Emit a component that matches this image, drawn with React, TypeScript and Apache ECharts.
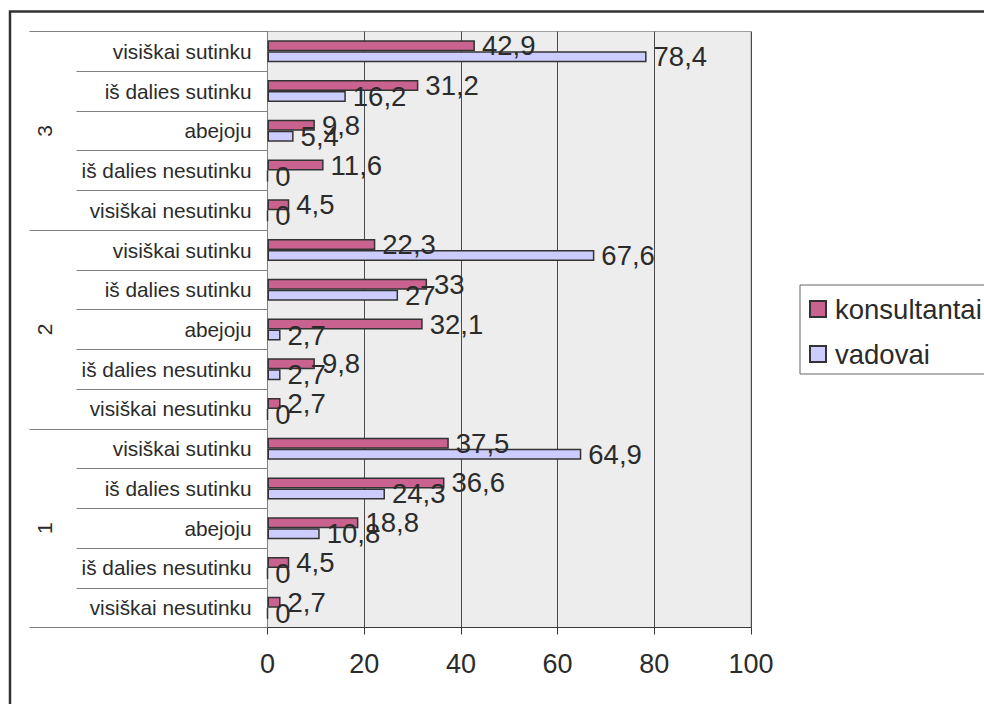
import React, { useEffect, useRef } from "react";
import * as echarts from "echarts";

// Outer grouping (statement number) and the answer scale inside each group,
// listed from the bottom of the chart upwards.
const groups = ["1", "2", "3"];
const answers = [
  "visiškai nesutinku",
  "iš dalies nesutinku",
  "abejoju",
  "iš dalies sutinku",
  "visiškai sutinku",
];

// Percentages per group, in the same order as `answers`.
const konsultantai1 = [2.7, 4.5, 18.8, 36.6, 37.5];
const konsultantai2 = [2.7, 9.8, 32.1, 33, 22.3];
const konsultantai3 = [4.5, 11.6, 9.8, 31.2, 42.9];

const vadovai1 = [0, 0, 10.8, 24.3, 64.9];
const vadovai2 = [0, 2.7, 2.7, 27, 67.6];
const vadovai3 = [0, 0, 5.4, 16.2, 78.4];

const seriesNames = ["konsultantai", "vadovai"];
const xMin = 0;
const xMax = 100;
const xStep = 20;

const FONT = "'Liberation Sans', Arial, sans-serif";
const TEXT = "#2b2b2b";
const SEP = "#808080";

export default function App() {
  const ref = useRef<HTMLDivElement>(null);

  useEffect(() => {
    if (!ref.current) return;
    const chart = echarts.init(ref.current, null, { renderer: "svg" });

    // unique keys "group|answer" so repeated answer names stay distinct
    const categories = groups.flatMap((g) => answers.map((a) => `${g}|${a}`));
    const konsultantai = [...konsultantai1, ...konsultantai2, ...konsultantai3];
    const vadovai = [...vadovai1, ...vadovai2, ...vadovai3];

    const valueLabel = {
      show: true,
      position: "right" as const,
      distance: 7,
      fontFamily: FONT,
      fontSize: 27.5,
      color: TEXT,
      formatter: (p: any) => String(p.value).replace(".", ","),
    };

    chart.setOption({
      animation: false,
      backgroundColor: "#ffffff",
      textStyle: { fontFamily: FONT },
      grid: {
        left: 267.5,
        right: 233,
        top: 31.5,
        bottom: 76.5,
        show: true,
        backgroundColor: "#ededed",
        borderColor: "#a0a0a0",
        borderWidth: 1,
      },
      legend: {
        orient: "vertical",
        left: 800,
        top: 285,
        data: seriesNames,
        icon: "rect",
        itemWidth: 16,
        itemHeight: 16,
        itemGap: 17,
        padding: [10, 10, 6, 9],
        borderColor: "#666666",
        borderWidth: 1,
        backgroundColor: "#ffffff",
        textStyle: {
          fontFamily: FONT,
          fontSize: 27.5,
          color: TEXT,
          padding: [0, 0, 0, 4],
        },
      },
      xAxis: {
        type: "value",
        min: xMin,
        max: xMax,
        interval: xStep,
        axisLine: { show: true, lineStyle: { color: "#3a3a3a", width: 1 } },
        axisTick: { show: true, length: 7, lineStyle: { color: "#3a3a3a" } },
        splitLine: { show: true, lineStyle: { color: "#4a4a4a", width: 1 } },
        axisLabel: {
          margin: 23,
          fontFamily: FONT,
          fontSize: 27,
          color: TEXT,
        },
      },
      yAxis: [
        {
          type: "category",
          data: categories,
          position: "left",
          axisLine: { show: true, lineStyle: { color: SEP } },
          axisTick: { show: true, length: 191, lineStyle: { color: SEP, width: 1 } },
          axisLabel: {
            interval: 0,
            margin: 16,
            fontFamily: FONT,
            fontSize: 20.8,
            color: TEXT,
            formatter: (v: string) => v.split("|")[1],
          },
          splitLine: { show: false },
        },
        {
          type: "category",
          data: groups,
          position: "left",
          axisLine: { show: false },
          axisTick: { show: true, length: 238, lineStyle: { color: SEP, width: 1 } },
          axisLabel: {
            interval: 0,
            rotate: 90,
            margin: 213,
            fontFamily: FONT,
            fontSize: 21,
            color: TEXT,
          },
          splitLine: { show: false },
        },
      ],
      series: [
        {
          name: seriesNames[0],
          type: "bar",
          yAxisIndex: 0,
          data: konsultantai,
          barWidth: 11,
          barGap: "0%",
          itemStyle: { color: "#c9628f", borderColor: "#333333", borderWidth: 1.5 },
          label: valueLabel,
        },
        {
          name: seriesNames[1],
          type: "bar",
          yAxisIndex: 0,
          data: vadovai,
          barWidth: 11,
          barGap: "0%",
          itemStyle: { color: "#ccccff", borderColor: "#333333", borderWidth: 1.5 },
          label: valueLabel,
        },
      ],
      graphic: [
        {
          type: "rect",
          silent: true,
          z: 100,
          shape: { x: 10, y: 11.5, width: 1200, height: 1200 },
          style: { fill: "none", stroke: "#333333", lineWidth: 2.5 },
        },
      ],
    });

    return () => chart.dispose();
  }, []);

  return (
    <div
      ref={ref}
      style={{ position: "fixed", left: 0, top: 0, width: 984, height: 704 }}
    />
  );
}
